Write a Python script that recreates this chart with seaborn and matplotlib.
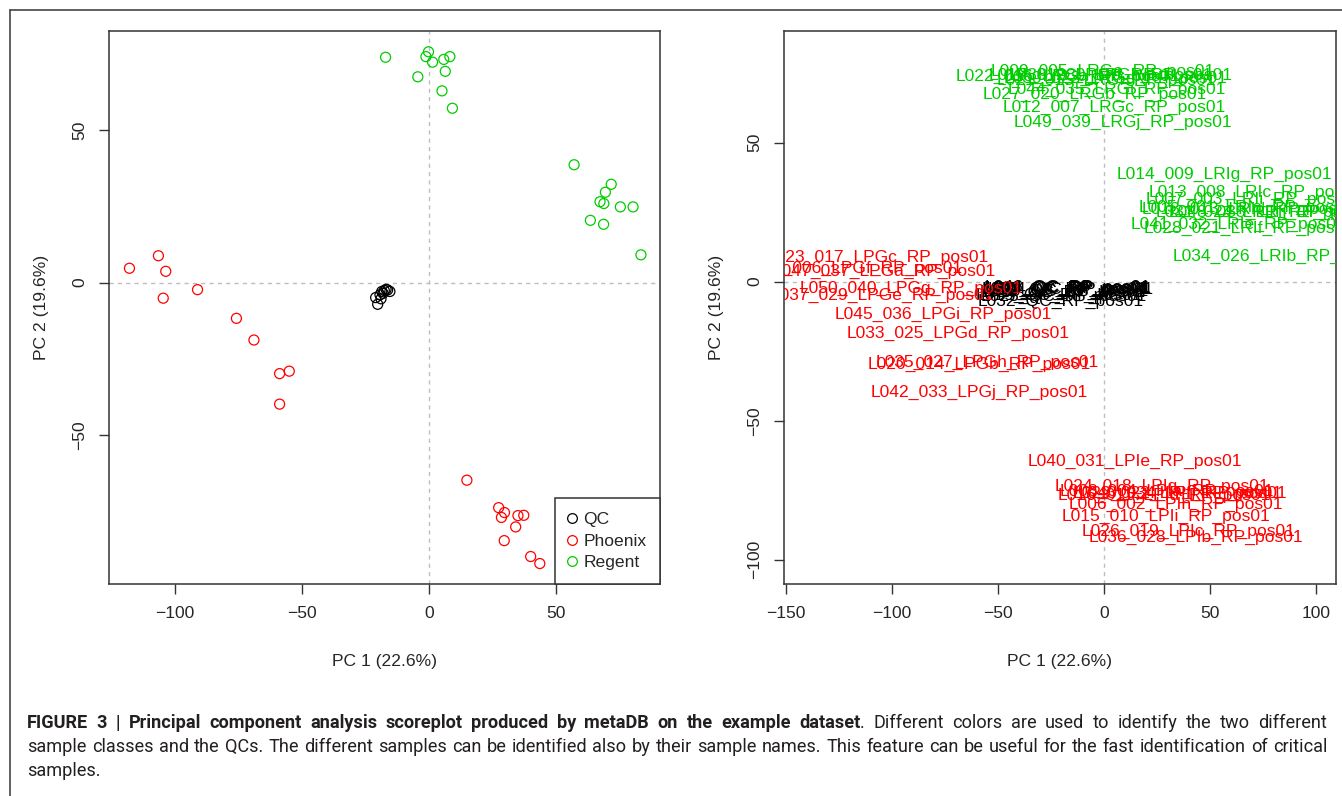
import pandas as pd
import seaborn as sns
import matplotlib.pyplot as plt
from matplotlib.lines import Line2D


# =========================
#  PCA scores
# =========================

qc_names = [
    "L001_QC_RP_pos01", "L002_QC_RP_pos01", "L003_QC_RP_pos01", "L004_QC_RP_pos01",
    "L010_QC_RP_pos01", "L019_QC_RP_pos01", "L025_QC_RP_pos01", "L032_QC_RP_pos01",
    "L039_QC_RP_pos01", "L046_QC_RP_pos01",
]
qc_pc1 = [-16.4, -17.7, -18.7, -15.5, -19.4, -21.1, -19.0, -20.3, -18.2, -17.0]
qc_pc2 = [-2.4, -2.6, -2.9, -2.9, -4.0, -4.9, -5.3, -7.1, -3.5, -2.2]

phoenix_names = [
    "L011_006_LPGf_RP_pos01", "L023_017_LPGc_RP_pos01", "L047_037_LPGa_RP_pos01",
    "L037_029_LPGe_RP_pos01", "L050_040_LPGg_RP_pos01", "L045_036_LPGi_RP_pos01",
    "L033_025_LPGd_RP_pos01", "L020_014_LPGb_RP_pos01", "L035_027_LPGh_RP_pos01",
    "L042_033_LPGj_RP_pos01",
    "L040_031_LPIe_RP_pos01", "L024_018_LPIg_RP_pos01", "L008_004_LPIa_RP_pos01",
    "L016_011_LPId_RP_pos01", "L029_022_LPIf_RP_pos01", "L043_034_LPIj_RP_pos01",
    "L006_002_LPIh_RP_pos01", "L015_010_LPIi_RP_pos01", "L026_019_LPIc_RP_pos01",
    "L036_028_LPIb_RP_pos01",
]
phoenix_pc1 = [-118.0, -106.6, -103.7, -104.7, -91.2, -75.9, -69.0, -58.9, -55.1, -58.9,
               14.8, 27.3, 29.6, 28.4, 34.9, 37.2, 34.0, 29.5, 39.9, 43.5]
phoenix_pc2 = [4.7, 8.8, 3.7, -5.1, -2.3, -11.7, -18.8, -29.8, -29.0, -39.8,
               -64.7, -73.7, -75.3, -76.9, -76.3, -76.2, -80.0, -84.5, -89.7, -92.0]

regent_names = [
    "L022_016_LRGa_RP_pos01", "L009_005_LRGe_RP_pos01", "L017_012_LRGd_RP_pos01",
    "L021_015_LRGf_RP_pos01", "L030_023_LRGg_RP_pos01", "L038_030_LRGh_RP_pos01",
    "L044_035_LRGi_RP_pos01", "L027_020_LRGb_RP_pos01", "L012_007_LRGc_RP_pos01",
    "L049_039_LRGj_RP_pos01",
    "L014_009_LRIg_RP_pos01", "L013_008_LRIc_RP_pos01", "L007_003_LRIi_RP_pos01",
    "L005_001_LRIa_RP_pos01", "L018_013_LRId_RP_pos01", "L031_024_LRIh_RP_pos01",
    "L048_038_LRIj_RP_pos01", "L041_032_LRIe_RP_pos01", "L028_021_LRIf_RP_pos01",
    "L034_026_LRIb_RP_pos01",
]
regent_pc1 = [-17.2, -0.3, -1.3, 1.3, 5.7, 8.1, 6.3, -4.5, 5.0, 9.1,
              57.0, 71.6, 69.3, 67.2, 68.7, 75.2, 80.2, 63.4, 68.6, 83.3]
regent_pc2 = [73.8, 75.6, 74.0, 72.2, 73.1, 74.0, 69.2, 67.4, 62.8, 57.1,
              38.6, 32.2, 29.6, 26.5, 25.9, 24.8, 24.8, 20.4, 19.1, 9.1]

classes = ["QC", "Phoenix", "Regent"]
palette = {"QC": "#000000", "Phoenix": "#FF0000", "Regent": "#00CD00"}

x_label = "PC 1 (22.6%)"
y_label = "PC 2 (19.6%)"

caption = [
    [("FIGURE 3 | Principal component analysis scoreplot produced by metaDB on the example dataset", "bold"),
     (". Different colors are used to identify the two different", "normal")],
    [("sample classes and the QCs. The different samples can be identified also by their "
      "sample names. This feature can be useful for the fast identification of critical", "normal")],
    [("samples.", "normal")],
]

df = pd.concat([
    pd.DataFrame({"name": qc_names, "cls": "QC", "pc1": qc_pc1, "pc2": qc_pc2}),
    pd.DataFrame({"name": phoenix_names, "cls": "Phoenix", "pc1": phoenix_pc1, "pc2": phoenix_pc2}),
    pd.DataFrame({"name": regent_names, "cls": "Regent", "pc1": regent_pc1, "pc2": regent_pc2}),
], ignore_index=True)
# acquisition order = order the labels get drawn in
df["run"] = df["name"].str[1:4].astype(int)
df = df.sort_values("run").reset_index(drop=True)


# =========================
#  Figure
# =========================
sns.set_style("white")
plt.rcParams["font.family"] = ["Liberation Sans", "DejaVu Sans"]

W, H = 1342, 796
fig = plt.figure(figsize=(W / 100, H / 100), dpi=100)


def px_axes(x0, y0, x1, y1):
    return fig.add_axes([x0 / W, 1 - y1 / H, (x1 - x0) / W, (y1 - y0) / H])


ax1 = px_axes(108.6, 31, 660, 584)
ax2 = px_axes(783.6, 31, 1336, 584)

FS = 12.6
box_col = "#333333"

# left: score plot with open circles
sns.scatterplot(data=df, x="pc1", y="pc2", hue="cls", hue_order=classes,
                palette=palette, s=52, linewidth=0.9, legend=False, ax=ax1)
pts = ax1.collections[0]
pts.set_edgecolors(pts.get_facecolors())
pts.set_facecolors("none")

# right: sample names at the score positions
for _, row in df.iterrows():
    ax2.text(row["pc1"], row["pc2"], row["name"], color=palette[row["cls"]],
             ha="center", va="center", fontsize=FS, clip_on=True)

for ax in (ax1, ax2):
    ax.axhline(0, color="#BEBEBE", lw=1, ls=(0, (3, 3)), zorder=0)
    ax.axvline(0, color="#BEBEBE", lw=1, ls=(0, (3, 3)), zorder=0)
    for sp in ax.spines.values():
        sp.set_color(box_col)
        sp.set_linewidth(1.1)
    ax.tick_params(axis="both", direction="out", length=7, width=1, color=box_col,
                   labelsize=FS, bottom=True, left=True)
    ax.tick_params(axis="x", pad=9)
    ax.tick_params(axis="y", pad=8.5, labelrotation=90)
    for lab in ax.get_yticklabels():
        lab.set_va("center")
    ax.set_xlabel(x_label, fontsize=FS)
    ax.set_ylabel(y_label, fontsize=FS)
    ax.xaxis.set_label_coords(0.5, -0.126)
    ax.yaxis.set_label_coords(-0.108, 0.5)
    ax.grid(False)

ax1.set_xlim(-126.2, 90.8)
ax1.set_ylim(-98.7, 82.4)
ax1.set_xticks([-100, -50, 0, 50])
ax1.set_yticks([-50, 0, 50])

ax2.set_xlim(-151.2, 109.6)
ax2.set_ylim(-108.7, 90.1)
ax2.set_xticks([-150, -100, -50, 0, 50, 100])
ax2.set_yticks([-100, -50, 0, 50])

handles = [Line2D([], [], ls="none", marker="o", markersize=7, markerfacecolor="none",
                  markeredgecolor=palette[c], markeredgewidth=0.9) for c in classes]
leg = ax1.legend(handles, classes, loc="lower right", borderaxespad=0, fontsize=FS,
                 frameon=True, fancybox=False, edgecolor=box_col, framealpha=1,
                 borderpad=0.78, handlelength=0.33, handletextpad=0.5, labelspacing=0.37)
leg.get_frame().set_linewidth(1.1)

# outer panel frame (left + top edge visible)
fig.add_artist(Line2D([9.5 / W, 9.5 / W], [0, 1 - 10 / H], color="#444444", lw=1.2))
fig.add_artist(Line2D([9.5 / W, 1], [1 - 10 / H, 1 - 10 / H], color="#444444", lw=1.2))


# =========================
#  Caption, justified
# =========================
CAP_X0, CAP_X1 = 27.3, 1327
CAP_FONT = ["Roboto", "Liberation Sans", "DejaVu Sans"]
fig.canvas.draw()
rend = fig.canvas.get_renderer()

# size the caption font so the second line fills the column with normal spacing
probe = fig.text(0, 0, caption[1][0][0], fontsize=10, family=CAP_FONT)
cap_fs = 10 * (CAP_X1 - CAP_X0) / probe.get_window_extent(rend).width * 0.985
probe.remove()


def words_of(parts):
    words = []
    glue = False
    for txt, wt in parts:
        for k, piece in enumerate(txt.split(" ")):
            if piece == "":
                continue
            if k == 0 and glue and words:
                words[-1].append((piece, wt))
            else:
                words.append([(piece, wt)])
        glue = not txt.endswith(" ")
    return words


def place_line(parts, y_base, x0, x1, justify):
    words = words_of(parts)
    objs, widths = [], []
    for w in words:
        o, ws = [], []
        for piece, wt in w:
            t = fig.text(0, 1 - y_base / H, piece, fontsize=cap_fs, fontweight=wt,
                         family=CAP_FONT, ha="left", va="baseline", color="#231f20")
            o.append(t)
            ws.append(t.get_window_extent(rend).width)
        objs.append(o)
        widths.append(ws)
    total = sum(sum(ws) for ws in widths)
    if justify and len(words) > 1:
        gap = (x1 - x0 - total) / (len(words) - 1)
    else:
        gap = cap_fs * 100 / 72 * 0.25
    x = x0
    for o, ws in zip(objs, widths):
        for t, wd in zip(o, ws):
            t.set_x(x / W)
            x += wd
        x += gap


place_line(caption[0], 728.3, CAP_X0, CAP_X1, True)
place_line(caption[1], 752.3, CAP_X0, CAP_X1, True)
place_line(caption[2], 776.0, CAP_X0, CAP_X1, False)

fig.savefig("out.png", dpi=100)
